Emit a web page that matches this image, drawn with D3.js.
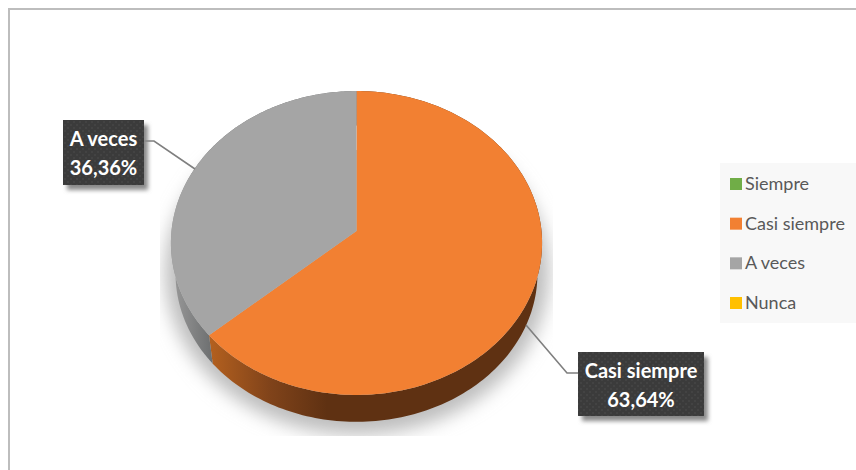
<!DOCTYPE html>
<html>
<head>
<meta charset="utf-8">
<script src="https://cdn.jsdelivr.net/npm/d3@7/dist/d3.min.js"></script>
<style>
html,body{margin:0;padding:0;background:#fff;}
svg{display:block;}
text{font-family:Lato,"Noto Sans",sans-serif;}
</style>
</head>
<body>
<svg id="chart" width="856" height="470"></svg>
<script>
// Survey answers and their shares
const categories = ["Siempre", "Casi siempre", "A veces", "Nunca"];
const shares = [0, 63.64, 36.36, 0];
const legendColors = ["#70ad47", "#f28032", "#a5a5a5", "#ffc000"];
const shareLabels = ["", "63,64%", "36,36%", ""];

const svg = d3.select("#chart");
const defs = svg.append("defs");

// Tilted disc: unit circle to screen through a simple perspective map
const cx = 356.5, cy = 231, rx = 185, ry = 151, persp = -0.079, depth = 31, bottomScale = 0.975;
function project(angle, scale = 1, dy = 0) {
  const u = Math.sin(angle), v = -Math.cos(angle);
  const w = 1 + persp * v;
  return [cx + rx * scale * u / w, cy + dy + ry * scale * v / w];
}
const slices = d3.pie().sort(null).value(d => d)(shares);
const arcSteps = (a, b) => d3.range(0, 181).map(i => a + (b - a) * i / 180);
const line = d3.line();

// Soft cast shadow beneath the disc, cut off at its box
defs.append("filter").attr("id", "soft").attr("x", "-20%").attr("y", "-20%").attr("width", "140%").attr("height", "140%")
  .append("feGaussianBlur").attr("stdDeviation", 9);
defs.append("clipPath").attr("id", "shadowBox").append("rect")
  .attr("x", 160).attr("y", 150).attr("width", 393).attr("height", 286);
svg.append("g").attr("clip-path", "url(#shadowBox)")
  .append("ellipse")
  .attr("cx", 357).attr("cy", 272).attr("rx", 192).attr("ry", 163)
  .attr("fill", "#bdbdbd").attr("filter", "url(#soft)");

// Wall shading per slice
const wallStops = {
  "Casi siempre": [[208, "#b5611f"], [270, "#80431a"], [327, "#5f3112"], [560, "#5f3112"]],
  "A veces": [[175, "#969696"], [212, "#6d6f70"]]
};
Object.entries(wallStops).forEach(([name, stops], i) => {
  const g = defs.append("linearGradient").attr("id", "wall" + i)
    .attr("gradientUnits", "userSpaceOnUse")
    .attr("x1", stops[0][0]).attr("x2", stops[stops.length - 1][0]).attr("y1", 0).attr("y2", 0);
  const a = stops[0][0], b = stops[stops.length - 1][0];
  stops.forEach(s => g.append("stop").attr("offset", (s[0] - a) / (b - a)).attr("stop-color", s[1]));
});

// Disc walls
const wallIds = {"Casi siempre": "wall0", "A veces": "wall1"};
slices.forEach(s => {
  if (s.endAngle - s.startAngle <= 0) return;
  const name = categories[s.index];
  const angles = arcSteps(s.startAngle, s.endAngle);
  const top = angles.map(a => project(a));
  const bottom = angles.map(a => project(a, bottomScale, depth)).reverse();
  svg.append("path").attr("d", line(top.concat(bottom)) + "Z")
    .attr("fill", `url(#${wallIds[name]})`);
});

// Top face
slices.forEach(s => {
  if (s.endAngle - s.startAngle <= 0) return;
  const pts = [[cx, cy]].concat(arcSteps(s.startAngle, s.endAngle).map(a => project(a)));
  svg.append("path").attr("d", line(pts) + "Z")
    .attr("fill", legendColors[s.index]);
});

// Outer frame: only the top and left rules are inside the view
svg.append("rect").attr("x", 8).attr("y", 8).attr("width", 848).attr("height", 2).attr("fill", "#bdbdbd");
svg.append("rect").attr("x", 8).attr("y", 8).attr("width", 2).attr("height", 462).attr("fill", "#bdbdbd");

// Data callouts
const dots = defs.append("pattern").attr("id", "dots").attr("patternUnits", "userSpaceOnUse")
  .attr("width", 6).attr("height", 6);
dots.append("rect").attr("width", 6).attr("height", 6).attr("fill", "#3b3b3b");
dots.append("rect").attr("x", 1).attr("y", 1).attr("width", 2).attr("height", 2).attr("fill", "#434343");
dots.append("rect").attr("x", 4).attr("y", 4).attr("width", 2).attr("height", 2).attr("fill", "#434343");

const shadowF = defs.append("filter").attr("id", "boxShadow").attr("x", "-20%").attr("y", "-20%").attr("width", "150%").attr("height", "150%");
shadowF.append("feGaussianBlur").attr("stdDeviation", 2);

const callouts = [
  {index: 2, box: [63, 120, 81, 65], lead: [[144, 141], [154, 141], [195, 169]]},
  {index: 1, box: [578, 352, 126, 64], lead: [[578, 373], [567, 373], [526, 325]]}
];
callouts.forEach(c => {
  const [x, y, w, h] = c.box;
  svg.append("path").attr("d", line(c.lead)).attr("fill", "none")
    .attr("stroke", "#7f7f7f").attr("stroke-width", 1.6);
  svg.append("rect").attr("x", x + 4).attr("y", y + 5).attr("width", w).attr("height", h)
    .attr("fill", "#8a8a8a").attr("filter", "url(#boxShadow)");
  svg.append("rect").attr("x", x).attr("y", y).attr("width", w).attr("height", h).attr("fill", "url(#dots)");
  const t = svg.append("text").attr("text-anchor", "middle").attr("fill", "#fff")
    .attr("font-size", 20).attr("font-weight", 700);
  t.append("tspan").attr("x", x + w / 2).attr("y", y + 26).text(categories[c.index]);
  t.append("tspan").attr("x", x + w / 2).attr("y", y + 55).text(shareLabels[c.index]);
});

// Legend panel
svg.append("rect").attr("x", 720).attr("y", 163).attr("width", 136).attr("height", 160).attr("fill", "#f8f8f8");
const legendY = d3.scalePoint().domain(categories).range([184, 303]);
const item = svg.selectAll("g.item").data(categories).join("g").attr("class", "item")
  .attr("transform", d => `translate(0,${legendY(d)})`);
item.append("rect").attr("x", 730).attr("y", -6).attr("width", 12).attr("height", 12)
  .attr("fill", (d, i) => legendColors[i]);
item.append("text").attr("x", 745).attr("y", 6).attr("font-size", 18).attr("fill", "#595959").text(d => d);
</script>
</body>
</html>
